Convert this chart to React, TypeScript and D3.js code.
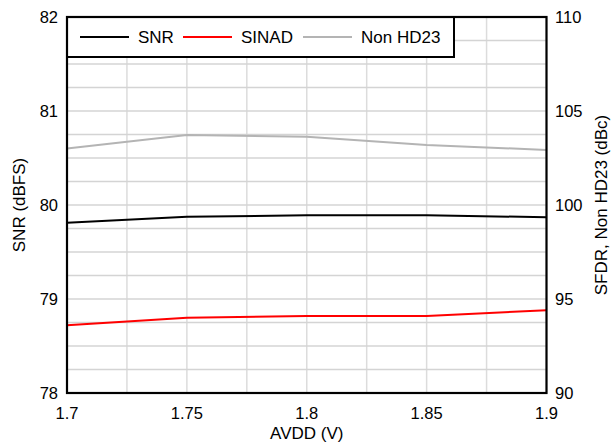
import React from "react";
import * as d3 from "d3";

const avdd = [1.7, 1.75, 1.8, 1.85, 1.9];
const snr = [79.81, 79.875, 79.89, 79.89, 79.87];
const sinad = [78.72, 78.8, 78.82, 78.82, 78.88];
const nonHd23 = [103.0, 103.72, 103.63, 103.19, 102.93];
const xTicks = [1.7, 1.75, 1.8, 1.85, 1.9];
const yLeftTicks = [78, 79, 80, 81, 82];
const yRightTicks = [90, 95, 100, 105, 110];
const seriesNames = ["SNR", "SINAD", "Non HD23"];

const W = 613, H = 444;
const m = { l: 67, r: 546.5, t: 17, b: 393 };
const font = "'Liberation Sans', Arial, sans-serif";

export default function App() {
  const x = d3.scaleLinear().domain([1.7, 1.9]).range([m.l, m.r]);
  const yL = d3.scaleLinear().domain([78, 82]).range([m.b, m.t]);
  const yR = d3.scaleLinear().domain([90, 110]).range([m.b, m.t]);
  const lineL = d3.line<number>().x((_, i) => x(avdd[i])).y((d) => yL(d));
  const lineR = d3.line<number>().x((_, i) => x(avdd[i])).y((d) => yR(d));
  const vGrid = d3.range(0, 9).map((i) => 1.7 + i * 0.025);
  const hGrid = d3.range(0, 17).map((i) => 78 + i * 0.25);
  const colors = ["#000000", "#ff0000", "#b4b4b4"];
  const legendItems = [
    { name: seriesNames[0], x0: 80, tx: 138 },
    { name: seriesNames[1], x0: 183, tx: 241 },
    { name: seriesNames[2], x0: 303, tx: 361 },
  ];
  return (
    <svg width={W} height={H} style={{ position: "absolute", left: 0, top: 0 }} fontFamily={font}>
      <rect width={W} height={H} fill="#fff" />
      {vGrid.map((v, i) => (
        <line key={"v" + i} x1={x(v)} x2={x(v)} y1={m.t} y2={m.b} stroke="#dcdcdc" strokeWidth={1.5} />
      ))}
      {hGrid.map((v, i) => (
        <line key={"h" + i} x1={m.l} x2={m.r} y1={yL(v)} y2={yL(v)} stroke="#d4d4d4" strokeWidth={1.3} />
      ))}
      <path d={lineR(nonHd23) || ""} fill="none" stroke={colors[2]} strokeWidth={2} />
      <path d={lineL(snr) || ""} fill="none" stroke={colors[0]} strokeWidth={2} />
      <path d={lineL(sinad) || ""} fill="none" stroke={colors[1]} strokeWidth={2} />
      <rect x={m.l} y={m.t} width={454 - m.l} height={57 - m.t} fill="#fff" stroke="#000" strokeWidth={2} />
      {legendItems.map((it, i) => (
        <g key={it.name}>
          <line x1={it.x0} x2={it.x0 + 49} y1={37} y2={37} stroke={colors[i]} strokeWidth={2} />
          <text x={it.tx} y={37} dy="0.35em" fontSize={17}>{it.name}</text>
        </g>
      ))}
      <rect x={m.l} y={m.t} width={m.r - m.l} height={m.b - m.t} fill="none" stroke="#000" strokeWidth={2.2} />
      {yLeftTicks.map((t) => (
        <text key={"l" + t} x={58} y={yL(t)} dy="0.35em" textAnchor="end" fontSize={16.5}>{t}</text>
      ))}
      {yRightTicks.map((t) => (
        <text key={"r" + t} x={555} y={yR(t)} dy="0.35em" textAnchor="start" fontSize={16.5}>{t}</text>
      ))}
      {xTicks.map((t) => (
        <text key={"x" + t} x={x(t)} y={413} dy="0.35em" textAnchor="middle" fontSize={16.5}>{t}</text>
      ))}
      <text x={(m.l + m.r) / 2} y={433} dy="0.35em" textAnchor="middle" fontSize={17}>AVDD (V)</text>
      <text transform={`translate(19,${(m.t + m.b) / 2}) rotate(-90)`} textAnchor="middle" dy="0.35em" fontSize={17}>SNR (dBFS)</text>
      <text transform={`translate(601,${(m.t + m.b) / 2}) rotate(-90)`} textAnchor="middle" dy="0.35em" fontSize={17}>SFDR, Non HD23 (dBc)</text>
    </svg>
  );
}
